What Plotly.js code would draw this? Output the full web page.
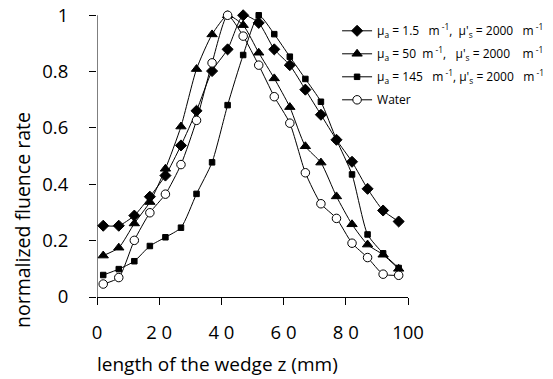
<!DOCTYPE html>
<html>
<head>
<meta charset="utf-8">
<script src="https://cdn.plot.ly/plotly-3.0.1.min.js"></script>
<style>html,body{margin:0;padding:0;background:#fff;}#chart{width:553px;height:379px;}</style>
</head>
<body>
<div id="chart"></div>
<script>
// wedge position z (mm)
const zPos = [2, 7, 12, 17, 22, 27, 32, 37, 42, 47, 52, 57, 62, 67, 72, 77, 82, 87, 92, 97];
// normalized fluence rate per medium
const muA1_5 = [0.253, 0.253, 0.289, 0.356, 0.431, 0.538, 0.661, 0.802, 0.879, 1.0, 0.973, 0.879, 0.823, 0.736, 0.647, 0.558, 0.480, 0.384, 0.307, 0.268];
const muA50 = [0.147, 0.175, 0.261, 0.337, 0.455, 0.605, 0.809, 0.932, 1.0, 0.965, 0.867, 0.776, 0.674, 0.535, 0.477, 0.357, 0.258, 0.186, 0.150, 0.100];
const muA145 = [0.078, 0.099, 0.127, 0.181, 0.212, 0.246, 0.366, 0.478, 0.681, 0.859, 1.0, 0.933, 0.853, 0.774, 0.693, 0.558, 0.435, 0.222, 0.155, 0.103];
const water = [0.046, 0.069, 0.201, 0.299, 0.365, 0.470, 0.627, 0.831, 1.0, 0.926, 0.823, 0.711, 0.617, 0.441, 0.331, 0.279, 0.191, 0.140, 0.081, 0.077];

const seriesNames = [
  "μ<sub>a</sub> = 1.5   m<sup> -1</sup>,  μ'<sub>s</sub> = 2000   m<sup> -1</sup>",
  "μ<sub>a</sub> = 50  m<sup> -1</sup>,   μ'<sub>s</sub> = 2000    m<sup> -1</sup>",
  "μ<sub>a</sub> = 145   m<sup> -1</sup>, μ'<sub>s</sub> = 2000   m<sup> -1</sup>",
  "Water"
];
const xTickVals = [0, 20, 40, 60, 80, 100];
const xTickText = ["0", "2 0", "4 0", "6 0", "8 0", "100"];
const yTickVals = [0, 0.2, 0.4, 0.6, 0.8, 1];
const yTickText = ["0", "0.2", "0.4", "0.6", "0.8", "1"];

const FONT = "'Open Sans', 'Noto Sans', sans-serif";
const lineStyle = {color: '#000', width: 1, shape: 'spline', smoothing: 0.6};

function mk(y, name, symbol, size, fill, grp) {
  return {
    x: zPos, y: y, name: name, type: 'scatter', mode: 'lines+markers',
    legendgroup: grp,
    line: lineStyle, cliponaxis: false,
    marker: {symbol: symbol, size: size, color: fill,
             line: {color: '#000', width: 1}}
  };
}

const data = [
  mk(muA1_5, seriesNames[0], 'diamond', 8.5, '#000', 'g1'),
  mk(muA50, seriesNames[1], 'triangle-up', 9, '#000', 'g2'),
  mk(muA145, seriesNames[2], 'square', 5.5, '#000', 'g3'),
  mk(water, seriesNames[3], 'circle', 8.5, '#fff', 'g4')
];

const layout = {
  width: 553, height: 379,
  margin: {l: 97.3, r: 131.7, t: 3.7, b: 81.5, pad: 0},
  paper_bgcolor: '#fff', plot_bgcolor: '#fff',
  font: {family: FONT, color: '#000'},
  showlegend: true,
  legend: {x: 0.772, xref: 'paper', xanchor: 'left', y: 0.958, yanchor: 'top',
           font: {family: FONT, size: 12, color: '#000'}, bgcolor: 'rgba(0,0,0,0)',
           itemwidth: 30, tracegroupgap: 4},
  xaxis: {range: [0, 100], showgrid: false, zeroline: false, showline: true,
          linecolor: '#000', linewidth: 1, ticks: 'outside', ticklen: 7, tickwidth: 1,
          tickcolor: '#000', tickvals: xTickVals, ticktext: xTickText,
          tickfont: {family: FONT, size: 18.5, color: '#000'}, ticklabelstandoff: 12},
  yaxis: {range: [0, 1.04], showgrid: false, zeroline: false, showline: false,
          ticks: 'outside', ticklen: 7, tickwidth: 1, tickcolor: '#000',
          tickvals: yTickVals, ticktext: yTickText,
          tickfont: {family: FONT, size: 18.5, color: '#000'}, ticklabelstandoff: 17},
  shapes: [
    {type: 'line', xref: 'x', yref: 'y', x0: 0, x1: 0, y0: 0, y1: 1,
     line: {color: '#000', width: 1}}
  ],
  annotations: [
    {text: 'length of the wedge z (mm)', xref: 'paper', yref: 'paper',
     x: 0.389, y: -0.23, xanchor: 'center', yanchor: 'middle', showarrow: false,
     font: {family: FONT, size: 19, color: '#000'}},
    {text: 'normalized fluence rate', xref: 'paper', yref: 'paper',
     x: -0.24, y: 0.264, xanchor: 'center', yanchor: 'middle', showarrow: false,
     textangle: -90, font: {family: FONT, size: 19.5, color: '#000'}}
  ]
};

Plotly.newPlot('chart', data, layout, {staticPlot: true, displayModeBar: false});
</script>
</body>
</html>
